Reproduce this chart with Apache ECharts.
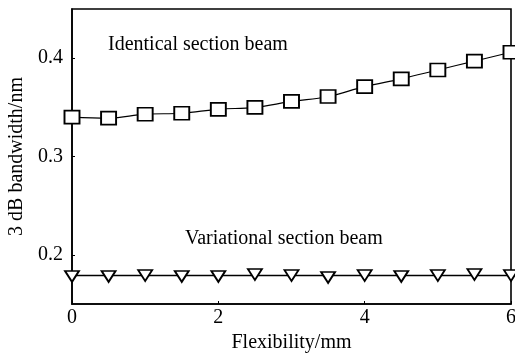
<!DOCTYPE html>
<html>
<head>
<meta charset="utf-8">
<script src="https://cdn.jsdelivr.net/npm/echarts@6/dist/echarts.min.js"></script>
<style>
  html, body { margin: 0; padding: 0; background: #fff; }
  #chart { width: 515px; height: 357px; }
</style>
</head>
<body>
<div id="chart"></div>
<script>
// Flexibility (mm) at which each bandwidth was measured
const flexibility = [0, 0.5, 1, 1.5, 2, 2.5, 3, 3.5, 4, 4.5, 5, 5.5, 6];
// 3 dB bandwidth (nm), identical section beam
const identicalBeam = [0.340, 0.339, 0.343, 0.344, 0.348, 0.350, 0.356, 0.361, 0.371, 0.379, 0.388, 0.397, 0.406];
// 3 dB bandwidth (nm), variational section beam
const variationalBeam = [0.178, 0.178, 0.179, 0.178, 0.178, 0.180, 0.179, 0.177, 0.179, 0.178, 0.179, 0.180, 0.179];
// Flat trend line for the variational section beam
const variationalTrend = [[0, 0.179], [6, 0.179]];
// Axis tick labels
const xTicks = [0, 2, 4, 6];
const yTicks = [0.2, 0.3, 0.4];

const FONT = '"Liberation Serif", "DejaVu Serif", serif';

const chart = echarts.init(document.getElementById('chart'), null, { renderer: 'canvas' });

const pairs = (ys) => flexibility.map((x, i) => [x, ys[i]]);

chart.setOption({
  animation: false,
  backgroundColor: '#fff',
  grid: {
    left: 72, right: 4, top: 9, bottom: 53,
    outerBoundsMode: 'none',
    containLabel: false,
    show: true, borderColor: '#000', borderWidth: 1.6, backgroundColor: 'transparent'
  },
  xAxis: {
    type: 'value',
    min: 0, max: 6, interval: 2,
    name: 'Flexibility/mm',
    nameLocation: 'middle',
    nameGap: 29,
    nameTextStyle: { fontFamily: FONT, fontSize: 20, color: '#000' },
    axisLine: { show: true, lineStyle: { color: '#000', width: 1.6 } },
    axisTick: { show: true, inside: true, length: 3, lineStyle: { color: '#000' }, customValues: xTicks },
    axisLabel: { fontFamily: FONT, fontSize: 20, color: '#000', margin: 4, customValues: xTicks,
                 formatter: (v) => String(v) },
    splitLine: { show: false }
  },
  yAxis: {
    type: 'value',
    min: 0.15, max: 0.45,
    name: '3 dB bandwidth/nm',
    nameLocation: 'middle',
    nameGap: 45,
    nameTextStyle: { fontFamily: FONT, fontSize: 20, color: '#000' },
    axisLine: { show: true, lineStyle: { color: '#000', width: 1.6 } },
    axisTick: { show: true, inside: true, length: 3, lineStyle: { color: '#000' }, customValues: yTicks },
    axisLabel: { fontFamily: FONT, fontSize: 20, color: '#000', margin: 9, customValues: yTicks,
                 formatter: (v) => v.toFixed(1) },
    splitLine: { show: false }
  },
  graphic: [
    { type: 'text', left: 108, top: 35,
      style: { text: 'Identical section beam', fontFamily: FONT, fontSize: 20, fill: '#000' } },
    { type: 'text', left: 185, top: 229,
      style: { text: 'Variational section beam', fontFamily: FONT, fontSize: 20, fill: '#000' } }
  ],
  series: [
    {
      name: 'Identical section beam',
      type: 'line',
      data: pairs(identicalBeam),
      smooth: 0.4,
      symbol: 'rect',
      symbolSize: [15, 13],
      itemStyle: { color: '#fff', borderColor: '#000', borderWidth: 1.8 },
      lineStyle: { color: '#000', width: 1.2 },
      clip: false,
      z: 3
    },
    {
      name: 'Variational section beam',
      type: 'line',
      data: pairs(variationalBeam),
      lineStyle: { width: 0, opacity: 0 },
      symbol: 'triangle',
      symbolRotate: 180,
      symbolSize: [14, 11],
      itemStyle: { color: '#fff', borderColor: '#000', borderWidth: 1.8 },
      clip: false,
      z: 4
    },
    {
      name: 'Variational trend',
      type: 'line',
      data: variationalTrend,
      showSymbol: false,
      lineStyle: { color: '#000', width: 1.5 },
      z: 2
    }
  ]
});
</script>
</body>
</html>
